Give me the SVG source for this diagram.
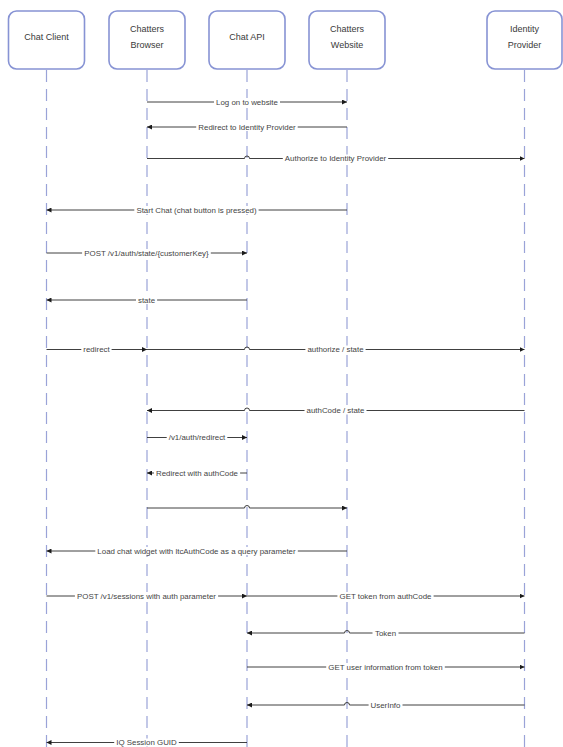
<svg xmlns="http://www.w3.org/2000/svg" width="563" height="747" viewBox="0 0 563 747">
<style>
.box{fill:#fff;stroke:#8793d4;stroke-width:1.6}
.hd{font-family:"Liberation Sans",Arial,sans-serif;font-size:9px;fill:#3a3a3a;text-anchor:middle}
.life{stroke:#9aa3d8;stroke-width:1.2;stroke-dasharray:12 7;fill:none}
.msg{stroke:#2a2a2a;stroke-width:0.9;fill:none}
.ar{marker-end:url(#ah)}
.bg{fill:#fff}
.lb{font-family:"Liberation Sans",Arial,sans-serif;font-size:7.9px;fill:#444;text-anchor:middle}
</style>
<defs>
<marker id="ah" viewBox="0 0 10 10" refX="10" refY="5" markerWidth="5" markerHeight="5" markerUnits="userSpaceOnUse" orient="auto">
<path d="M0,0 L10,5 L0,10 z" fill="#1a1a1a"/>
</marker>
</defs>
<rect width="563" height="747" fill="#fff"/>
<g id="lifelines">
<line class="life" x1="46.5" y1="70" x2="46.5" y2="747"/>
<line class="life" x1="147" y1="70" x2="147" y2="747"/>
<line class="life" x1="247" y1="70" x2="247" y2="747"/>
<line class="life" x1="347" y1="70" x2="347" y2="747"/>
<line class="life" x1="524.5" y1="70" x2="524.5" y2="747"/>
</g>
<g id="chat-client"><rect class="box" x="8.5" y="11" width="76" height="58" rx="8"/><text class="hd" x="46.5" y="39.5">Chat Client</text></g>
<g id="chatters-browser"><rect class="box" x="109" y="11" width="76" height="58" rx="8"/><text class="hd" x="147" y="31.5">Chatters</text><text class="hd" x="147" y="47.5">Browser</text></g>
<g id="chat-api"><rect class="box" x="209" y="11" width="76" height="58" rx="8"/><text class="hd" x="247" y="39.5">Chat API</text></g>
<g id="chatters-website"><rect class="box" x="309" y="11" width="76" height="58" rx="8"/><text class="hd" x="347" y="31.5">Chatters</text><text class="hd" x="347" y="47.5">Website</text></g>
<g id="identity-provider"><rect class="box" x="487" y="11" width="75" height="58" rx="8"/><text class="hd" x="524.5" y="31.5">Identity</text><text class="hd" x="524.5" y="47.5">Provider</text></g>
<g id="connectors">
<path class="msg ar" d="M147,102 H347"/>
<path class="msg ar" d="M347,127 H147"/>
<path class="msg ar" d="M147,158.5 H244.5 a2.5,2.5 0 0 1 5,0 H524.5"/>
<path class="msg ar" d="M347,210 H46.5"/>
<path class="msg ar" d="M46.5,253 H247"/>
<path class="msg ar" d="M247,300 H46.5"/>
<path class="msg ar" d="M46.5,349.5 H147"/>
<path class="msg ar" d="M147,349.5 H244.5 a2.5,2.5 0 0 1 5,0 H524.5"/>
<path class="msg ar" d="M524.5,410.5 H249.5 a2.5,2.5 0 0 0 -5,0 H147"/>
<path class="msg ar" d="M147,437.5 H247"/>
<path class="msg ar" d="M247,473 H147"/>
<path class="msg ar" d="M147,508 H244.5 a2.5,2.5 0 0 1 5,0 H347"/>
<path class="msg ar" d="M347,551 H46.5"/>
<path class="msg ar" d="M46.5,596 H247"/>
<path class="msg ar" d="M247,596 H524.5"/>
<path class="msg ar" d="M524.5,633 H349.5 a2.5,2.5 0 0 0 -5,0 H247"/>
<path class="msg ar" d="M247,667 H524.5"/>
<path class="msg ar" d="M524.5,705 H349.5 a2.5,2.5 0 0 0 -5,0 H247"/>
<path class="msg ar" d="M247,742.5 H46.5"/>
<g id="label-backgrounds">
<rect class="bg" x="214" y="98" width="66" height="8"/>
<rect class="bg" x="196.2" y="123" width="101.5" height="8"/>
<rect class="bg" x="282.8" y="154.5" width="105.4" height="8"/>
<rect class="bg" x="134.3" y="206" width="124.3" height="8"/>
<rect class="bg" x="82.1" y="249" width="128.7" height="8"/>
<rect class="bg" x="136" y="296" width="21.1" height="8"/>
<rect class="bg" x="81.3" y="345.5" width="30.3" height="8"/>
<rect class="bg" x="305.4" y="345.5" width="60.2" height="8"/>
<rect class="bg" x="304.5" y="406.5" width="62" height="8"/>
<rect class="bg" x="166.7" y="433.5" width="60.6" height="8"/>
<rect class="bg" x="154" y="469" width="86.1" height="8"/>
<rect class="bg" x="95.3" y="547" width="202.5" height="8"/>
<rect class="bg" x="74.9" y="592" width="143.2" height="8"/>
<rect class="bg" x="337.4" y="592" width="96.2" height="8"/>
<rect class="bg" x="372.5" y="629" width="26" height="8"/>
<rect class="bg" x="326.2" y="663" width="118.6" height="8"/>
<rect class="bg" x="368.6" y="701" width="33.9" height="8"/>
<rect class="bg" x="114.2" y="738.5" width="64.6" height="8"/>
</g>
<g id="labels">
<text class="lb" x="247" y="104.8">Log on to website</text>
<text class="lb" x="247" y="129.8">Redirect to Identity Provider</text>
<text class="lb" x="335.5" y="161.3">Authorize to Identity Provider</text>
<text class="lb" x="196.5" y="212.8">Start Chat (chat button is pressed)</text>
<text class="lb" x="146.5" y="255.8">POST /v1/auth/state/{customerKey}</text>
<text class="lb" x="146.5" y="302.8">state</text>
<text class="lb" x="96.5" y="352.3">redirect</text>
<text class="lb" x="335.5" y="352.3">authorize / state</text>
<text class="lb" x="335.5" y="413.3">authCode / state</text>
<text class="lb" x="197" y="440.3">/v1/auth/redirect</text>
<text class="lb" x="197" y="475.8">Redirect with authCode</text>
<text class="lb" x="196.5" y="553.8">Load chat widget with ltcAuthCode as a query parameter</text>
<text class="lb" x="146.5" y="598.8">POST /v1/sessions with auth parameter</text>
<text class="lb" x="385.5" y="598.8">GET token from authCode</text>
<text class="lb" x="385.5" y="635.8">Token</text>
<text class="lb" x="385.5" y="669.8">GET user information from token</text>
<text class="lb" x="385.5" y="707.8">UserInfo</text>
<text class="lb" x="146.5" y="745.3">IQ Session GUID</text>
</g>
</g>
</svg>
